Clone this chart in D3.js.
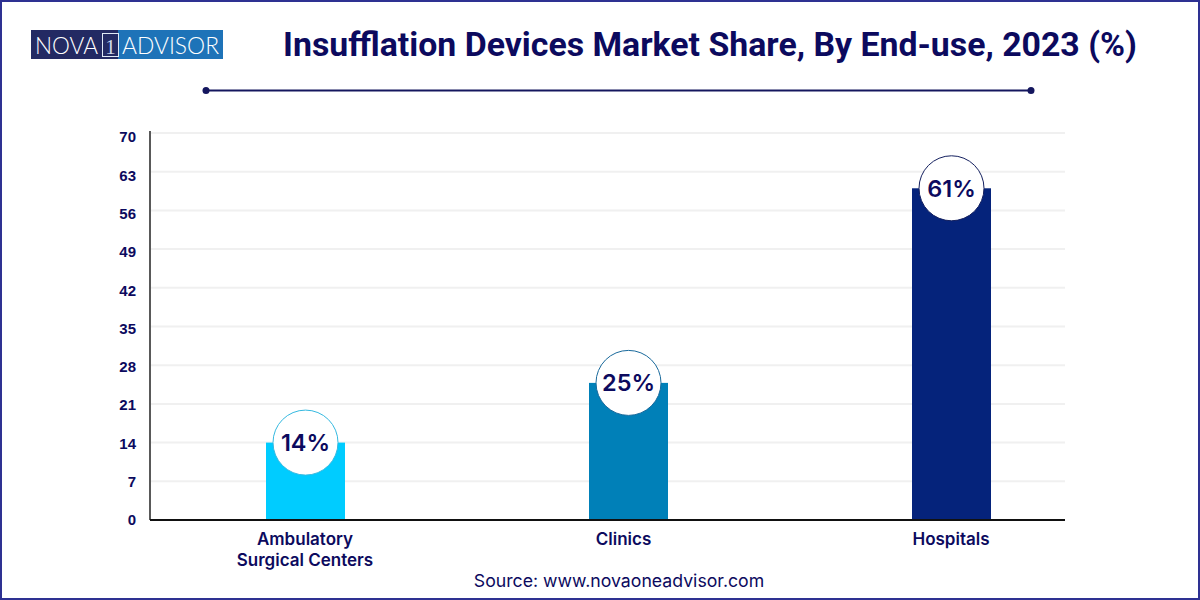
<!DOCTYPE html>
<html>
<head>
<meta charset="utf-8">
<script src="https://cdn.jsdelivr.net/npm/d3@7"></script>
<style>
    html, body { margin: 0; padding: 0; background: #fff; }
    svg { display: block; }
    text { fill: #0c0a5e; }
</style>
</head>
<body>
<div id="chart"></div>
<script>
const categories = ['Ambulatory|Surgical Centers', 'Clinics', 'Hospitals'];
const values = [14, 24.8, 60];
const valueLabels = ['14%', '25%', '61%'];
const barColors = ['#00ccff', '#0080b8', '#05237b'];
const ringColors = ['#35b9e0', '#1a6a9c', '#14205f'];
const yTicks = [0, 7, 14, 21, 28, 35, 42, 49, 56, 63, 70];

const width = 1200, height = 600;
const navy = '#0c0a5e';

const svg = d3.select('#chart').append('svg')
    .attr('width', width)
    .attr('height', height);

svg.append('rect')
    .attr('x', 1).attr('y', 1)
    .attr('width', width - 2).attr('height', height - 2)
    .attr('fill', '#fff')
    .attr('stroke', '#2e3192')
    .attr('stroke-width', 2);

// logo
const logo = svg.append('g');
logo.append('rect').attr('x', 31).attr('y', 30).attr('width', 192).attr('height', 29).attr('fill', '#1e73b8');
logo.append('rect').attr('x', 31).attr('y', 30).attr('width', 87).attr('height', 29).attr('fill', '#232a63');
logo.append('rect').attr('x', 102.5).attr('y', 33.5).attr('width', 16).attr('height', 23)
    .attr('fill', 'none').attr('stroke', '#dfe9f5').attr('stroke-width', 1);
logo.append('text').attr('x', 35).attr('y', 54)
    .attr('font-family', 'Lato').attr('font-size', 23).attr('font-weight', 300)
    .style('fill', '#fff').attr('textLength', 63).attr('lengthAdjust', 'spacingAndGlyphs').text('NOVA');
logo.append('text').attr('x', 110.5).attr('y', 54).attr('text-anchor', 'middle')
    .attr('font-family', 'Liberation Serif').attr('font-size', 21)
    .style('fill', '#cfd8ea').text('1');
logo.append('text').attr('x', 122).attr('y', 54)
    .attr('font-family', 'Lato').attr('font-size', 23).attr('font-weight', 300)
    .style('fill', '#fff').attr('textLength', 97).attr('lengthAdjust', 'spacingAndGlyphs').text('ADVISOR');

// title and rule under it
svg.append('text')
    .attr('x', 710).attr('y', 56)
    .attr('text-anchor', 'middle')
    .attr('font-family', 'Roboto')
    .attr('font-weight', 700)
    .attr('font-size', 33.85)
    .text('Insufflation Devices Market Share, By End-use, 2023 (%)');

svg.append('line')
    .attr('x1', 206).attr('x2', 1031).attr('y1', 90.5).attr('y2', 90.5)
    .attr('stroke', '#14165e').attr('stroke-width', 2);
svg.selectAll('.rule-dot').data([206, 1031]).join('circle')
    .attr('class', 'rule-dot')
    .attr('cx', d => d).attr('cy', 90.5).attr('r', 3.5)
    .attr('fill', '#14165e');

// scales, the tick labels sit a bit tighter than the gridlines in the original
const x = d3.scalePoint().domain(categories).range([305.5, 951.5]);
const y = d3.scaleLinear().domain([0, 70]).range([520, 133]);
const yLabels = d3.scaleLinear().domain([0, 70]).range([520, 137]);
const barWidth = 79;

// gridlines
svg.append('g').selectAll('line').data(yTicks.filter(d => d > 0)).join('line')
    .attr('x1', 151).attr('x2', 1065)
    .attr('y1', d => y(d)).attr('y2', d => y(d))
    .attr('stroke', '#f0f0f0').attr('stroke-width', 2);

// bars
svg.append('g').selectAll('rect').data(categories).join('rect')
    .attr('x', d => x(d) - barWidth / 2)
    .attr('y', (d, i) => y(values[i]))
    .attr('width', barWidth)
    .attr('height', (d, i) => y(0) - y(values[i]))
    .attr('fill', (d, i) => barColors[i]);

// y axis
const yAxis = svg.append('g')
    .attr('transform', 'translate(150,0)')
    .call(d3.axisLeft(yLabels).tickValues(yTicks).tickSize(0).tickPadding(14));
yAxis.select('.domain').attr('d', 'M0,131V520').attr('stroke', '#222').attr('stroke-width', 1.5);
yAxis.selectAll('text')
    .attr('font-family', 'Liberation Sans')
    .attr('font-weight', 700)
    .attr('font-size', 15)
    .style('fill', navy);

// x axis
const xAxis = svg.append('g')
    .attr('transform', 'translate(0,520)')
    .call(d3.axisBottom(x).tickSize(0).tickFormat(''));
xAxis.select('.domain').attr('d', 'M150,0H1065').attr('stroke', '#111').attr('stroke-width', 2);

// category labels, the | in a name splits it over two lines
// Clinics is not quite centred under its bar in the original
const labelX = d => x(d) - (d === 'Clinics' ? 5 : 0.5);
svg.append('g').selectAll('text').data(categories).join('text')
    .attr('x', labelX)
    .attr('y', 545)
    .attr('text-anchor', 'middle')
    .attr('font-family', 'Inter')
    .attr('font-weight', 600)
    .attr('font-size', 17)
    .selectAll('tspan').data(d => d.split('|').map(line => ({ line, cx: labelX(d) }))).join('tspan')
    .attr('x', d => d.cx)
    .attr('dy', (d, i) => i ? 21 : 0)
    .text(d => d.line);

// value circles
const badges = svg.append('g').selectAll('g').data(categories).join('g')
    .attr('transform', (d, i) => `translate(${x(d)},${y(values[i])})`);
badges.append('circle')
    .attr('r', 32.5)
    .attr('fill', '#fff')
    .attr('stroke', (d, i) => ringColors[i])
    .attr('stroke-width', 1);
badges.append('text')
    .attr('text-anchor', 'middle')
    .attr('dy', '0.36em')
    .attr('font-family', 'Inter')
    .attr('font-weight', 600)
    .attr('font-size', 23.5)
    .text((d, i) => valueLabels[i]);

// source
svg.append('text')
    .attr('x', 619).attr('y', 587)
    .attr('text-anchor', 'middle')
    .attr('font-family', 'Inter')
    .attr('font-size', 17.7)
    .text('Source: www.novaoneadvisor.com');
</script>
</body>
</html>
